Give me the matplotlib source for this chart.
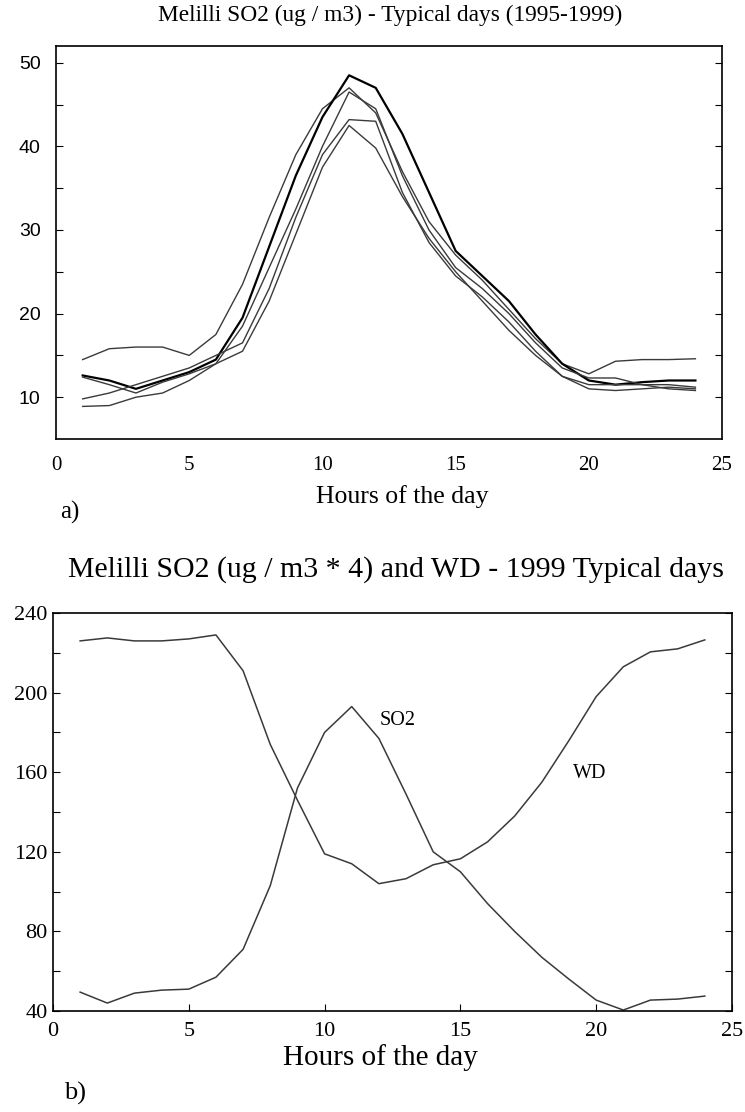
import matplotlib
matplotlib.use('Agg')
import matplotlib.pyplot as plt
import numpy as np

plt.rcParams['font.family'] = ['Liberation Serif', 'DejaVu Serif']

# panel a) : SO2 typical days, one curve per year 1995-1999
hours = list(range(1, 25))
so2_a = [14.5, 15.8, 16.0, 16.0, 15.0, 17.5, 23.5, 31.5, 39.0, 44.5, 47.0, 44.0, 37.0, 31.0, 27.0, 24.0, 20.5, 17.0, 14.0, 12.8, 14.3, 14.5, 14.5, 14.6]
so2_b = [12.6, 12.0, 11.0, 12.0, 13.0, 14.5, 19.5, 28.0, 36.5, 43.5, 48.5, 47.0, 41.5, 34.5, 27.5, 24.5, 21.5, 17.5, 14.0, 12.0, 11.5, 11.8, 12.0, 12.0]
so2_c = [12.4, 11.5, 10.5, 11.8, 12.8, 14.0, 18.5, 25.5, 32.5, 40.0, 46.5, 44.5, 36.5, 30.0, 25.5, 23.0, 20.0, 16.5, 13.5, 12.3, 12.3, 11.5, 11.5, 11.2]
so2_d = [9.8, 10.5, 11.5, 12.5, 13.5, 15.0, 16.5, 23.0, 31.5, 39.0, 43.2, 43.0, 34.5, 28.5, 24.5, 22.0, 19.0, 15.5, 12.5, 11.0, 10.8, 11.0, 11.2, 11.0]
so2_e = [8.9, 9.0, 10.0, 10.5, 12.0, 14.0, 15.5, 21.5, 29.5, 37.5, 42.5, 39.8, 34.0, 29.0, 25.0, 21.5, 18.0, 15.0, 12.5, 11.5, 11.5, 11.5, 11.0, 10.8]
years = [so2_a, so2_b, so2_c, so2_d, so2_e]

# panel b) : 1999 SO2 (x4) and wind direction
so2_1999 = [49.5, 44, 49, 50.5, 51, 57, 71, 103, 152, 180, 193, 177, 149, 120, 110, 94, 80, 67, 56, 45.5, 40.5, 45.5, 46, 47.5]
wd_1999 = [226, 227.5, 226, 226, 227, 229, 211, 174, 146, 119, 114, 104, 106.5, 113.5, 116.5, 125, 138, 155, 176, 198, 213, 220.5, 222, 226.5]

fig = plt.figure(figsize=(7.45, 11.12), dpi=100)

# ---- a)
ax1 = fig.add_axes([0.0752, 0.6052, 0.894, 0.3534])
for i, ys in enumerate(years):
    if i == 1:
        ax1.plot(hours, ys, color='black', linewidth=1.6)
    else:
        ax1.plot(hours, ys, color='#3a3a3a', linewidth=1.0)
ax1.set_xlim(0, 25)
ax1.set_ylim(5, 52)
ax1.set_yticks([10, 15, 20, 25, 30, 35, 40, 45, 50])
ax1.set_yticklabels(['10', '', '20', '', '30', '', '40', '', '50'], family='Liberation Sans', fontsize=14)
ax1.set_xticks([0, 5, 10, 15, 20, 25])
ax1.set_xticklabels(['0', '5', '10', '15', '20', '25'], fontsize=15)
ax1.tick_params(axis='y', direction='in', length=5, left=True, right=True, pad=11)
ax1.tick_params(axis='x', direction='in', length=0, pad=12)
for s in ax1.spines.values():
    s.set_linewidth(1.2)

fig.text(0.523, 1 - 15 / 1112, 'Melilli SO2 (ug / m3) - Typical days (1995-1999)',
         ha='center', va='center', fontsize=16.8)
fig.text(0.54, 1 - 497 / 1112, 'Hours of the day', ha='center', va='center', fontsize=18.5)
fig.text(0.094, 1 - 512 / 1112, 'a)', ha='center', va='center', fontsize=18)

# ---- b)
ax2 = fig.add_axes([0.0711, 0.0908, 0.9114, 0.3579])
ax2.plot(hours, so2_1999, color='#3a3a3a', linewidth=1.1)
ax2.plot(hours, wd_1999, color='#3a3a3a', linewidth=1.1)
ax2.text(12.7, 186, 'SO2', ha='center', va='center', fontsize=14.5)
ax2.text(19.75, 159.6, 'WD', ha='center', va='center', fontsize=14.5)
ax2.set_xlim(0, 25)
ax2.set_ylim(40, 240)
ax2.set_yticks(np.arange(40, 241, 20))
ax2.set_yticklabels(['40', '', '80', '', '120', '', '160', '', '200', '', '240'], fontsize=16)
ax2.set_xticks([0, 5, 10, 15, 20, 25])
ax2.set_xticklabels(['0', '5', '10', '15', '20', '25'], fontsize=16)
ax2.tick_params(axis='y', direction='in', length=5, left=True, right=True, pad=4)
ax2.tick_params(axis='x', direction='in', length=5, pad=8)
for s in ax2.spines.values():
    s.set_linewidth(1.2)

fig.text(0.532, 1 - 570 / 1112, 'Melilli SO2 (ug / m3 * 4) and WD - 1999 Typical days',
         ha='center', va='center', fontsize=21.5)
fig.text(0.51, 1 - 1058 / 1112, 'Hours of the day', ha='center', va='center', fontsize=21)
fig.text(0.101, 1 - 1093 / 1112, 'b)', ha='center', va='center', fontsize=19)

fig.savefig('out.png', dpi=100)
